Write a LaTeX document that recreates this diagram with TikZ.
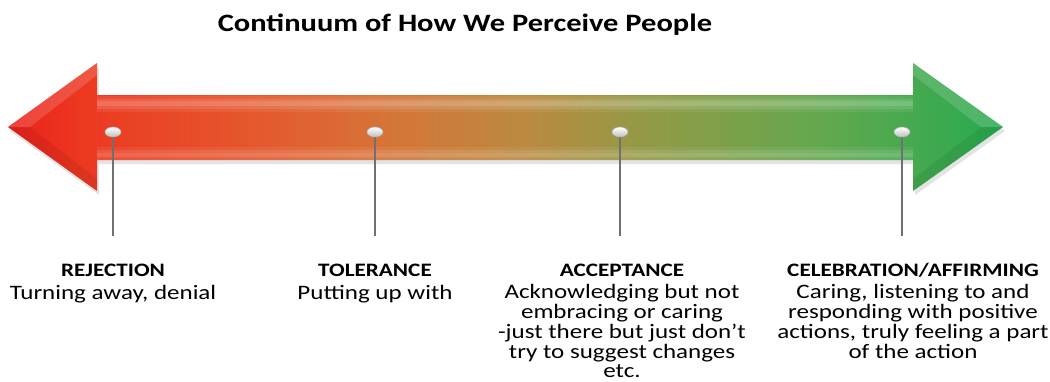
\documentclass[tikz,border=0pt]{standalone}
\usepackage{fontspec}
\usepackage{graphicx}
\setmainfont{Carlito}
\usetikzlibrary{shapes.geometric}
\definecolor{cA}{RGB}{236,32,26}
\definecolor{cB}{RGB}{236,58,34}
\definecolor{cC}{RGB}{228,90,46}
\definecolor{cD}{RGB}{214,116,56}
\definecolor{cE}{RGB}{186,138,64}
\definecolor{cF}{RGB}{146,154,70}
\definecolor{cG}{RGB}{98,168,78}
\definecolor{cH}{RGB}{40,170,80}
\definecolor{pingray}{RGB}{112,112,112}
\pgfdeclarehorizontalshading{continuum}{100bp}{color(0bp)=(cA); color(25bp)=(cA); color(29bp)=(cB); color(38bp)=(cC); color(44bp)=(cD); color(51bp)=(cE); color(57bp)=(cF); color(66bp)=(cG); color(75bp)=(cH); color(100bp)=(cH)}
\newcommand{\wide}[1]{\scalebox{1.22}[1]{#1}}
\newcommand{\bodytext}[1]{\wide{\fontsize{20.5}{19.2}\selectfont\begin{tabular}[t]{@{}c@{}}#1\end{tabular}}}
\tikzset{
  pin/.style={ellipse, draw=gray!60, inner sep=0pt, minimum width=16pt, minimum height=10pt, line width=0.6pt},
  pole/.style={draw=pingray, line width=2.4pt},
  head/.style={font=\fontsize{19}{20}\selectfont\bfseries, anchor=base, inner sep=0pt},
  body/.style={anchor=base, inner sep=0pt},
  title/.style={font=\fontsize{25}{28}\selectfont\bfseries, anchor=base, inner sep=0pt}
}
\begin{document}
\begin{tikzpicture}[x=1pt,y=-1pt]
\useasboundingbox (0,0) rectangle (1050,381);
\node[title] (t) at (465,31.5) {\wide{Continuum of How We Perceive People}};
% shadow
\fill[gray!22] (10,131) -- (99,67) -- (99,99) -- (915,99) -- (915,67) -- (1005,131) -- (915,195) -- (915,164) -- (99,164) -- (99,195) -- cycle;
% arrow
\shade[shading=continuum] (8,127) -- (97,63) -- (97,95) -- (913,95) -- (913,63) -- (1003,127) -- (913,191) -- (913,160) -- (97,160) -- (97,191) -- cycle;
% highlights
\foreach \a/\b/\o in {96/99/0.08,99/101/0.16,101/106/0.26,106/109/0.16,109/112/0.07,147/150/0.06,150/153/0.14,153/157/0.2,157/160/0.1}{
  \fill[white, opacity=\o] (97,\a) rectangle (913,\b);
}
\fill[white, opacity=0.15] (8,127) -- (97,63) -- (97,75) -- (30,127) -- cycle;
\fill[black, opacity=0.07] (8,127) -- (97,191) -- (97,179) -- (30,127) -- cycle;
\fill[white, opacity=0.15] (1003,127) -- (913,63) -- (913,75) -- (981,127) -- cycle;
\fill[black, opacity=0.07] (1003,127) -- (913,191) -- (913,179) -- (981,127) -- cycle;
% pins
\foreach \n/\x in {1/113,2/375,3/620,4/902}{
  \coordinate (e\n) at (\x,236);
  \draw[pole] (\x,137) -- (e\n);
  \node[pin, top color=white, bottom color=gray!50] (p\n) at (\x,132) {};
}
% labels
\node[head] (h1) at (113,276) {\wide{REJECTION}};
\node[head] (h2) at (375,276) {\wide{TOLERANCE}};
\node[head] (h3) at (622,276) {\wide{ACCEPTANCE}};
\node[head] (h4) at (913,276) {\wide{CELEBRATION/AFFIRMING}};
\node[body] (b1) at (113,299) {\bodytext{Turning away, denial}};
\node[body] (b2) at (375,299) {\bodytext{Putting up with}};
\node[body] (b3) at (622,298.5) {\bodytext{Acknowledging but not\\embracing or caring\\-just there but just don’t\\try to suggest changes\\etc.}};
\node[body] (b4) at (913,298.5) {\bodytext{Caring, listening to and\\responding with positive\\actions, truly feeling a part\\of the action}};
\end{tikzpicture}
\end{document}
